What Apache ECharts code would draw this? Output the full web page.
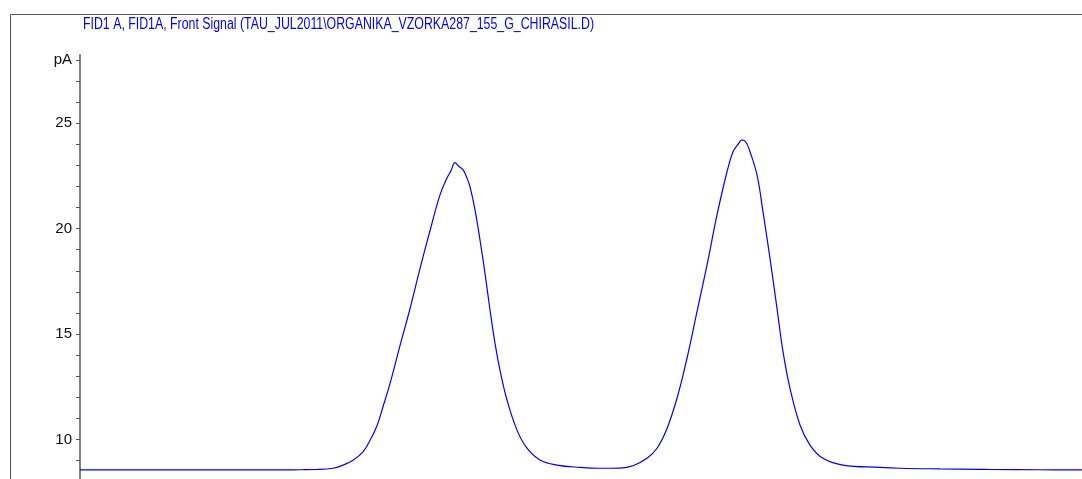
<!DOCTYPE html>
<html>
<head>
<meta charset="utf-8">
<script src="https://cdn.jsdelivr.net/npm/echarts@6/dist/echarts.min.js"></script>
<style>
html,body{margin:0;padding:0;background:#fff;}
#chart{width:1082px;height:479px;}
</style>
</head>
<body>
<div id="chart"></div>
<script>
// Retention time (min) and FID signal (pA)
const times = [0, 1.0, 2.0, 3.0, 4.0, 5.0, 5.5, 5.9, 6.325, 6.575, 6.825, 7.075, 7.25, 7.425, 7.575, 7.75, 8.0, 8.25, 8.5, 8.75, 9.0, 9.175, 9.275, 9.375, 9.475, 9.575, 9.675, 9.75, 9.875, 10.0, 10.125, 10.25, 10.375, 10.5, 10.675, 10.925, 11.175, 11.5, 11.925, 12.5, 13.0, 13.5, 13.825, 14.175, 14.425, 14.675, 14.925, 15.175, 15.425, 15.675, 15.925, 16.175, 16.325, 16.45, 16.55, 16.65, 16.75, 16.925, 17.075, 17.25, 17.425, 17.575, 17.75, 18.0, 18.25, 18.575, 19.075, 20.0, 20.5, 21.5, 22.5, 22.75, 24.0, 25.05];
const signal = [8.55, 8.55, 8.56, 8.55, 8.56, 8.55, 8.56, 8.57, 8.63, 8.78, 9.01, 9.41, 9.95, 10.65, 11.55, 12.65, 14.45, 16.2, 18.1, 19.9, 21.6, 22.4, 22.75, 23.13, 22.95, 22.8, 22.4, 21.99, 20.89, 19.46, 17.88, 16.14, 14.56, 13.29, 11.87, 10.44, 9.58, 9.02, 8.78, 8.67, 8.63, 8.64, 8.75, 9.10, 9.58, 10.52, 11.95, 13.85, 16.06, 18.27, 20.65, 22.70, 23.65, 24.0, 24.21, 24.1, 23.65, 22.55, 20.80, 18.59, 16.22, 14.16, 12.42, 10.68, 9.73, 9.10, 8.78, 8.67, 8.63, 8.60, 8.58, 8.57, 8.56, 8.55];
const tickValues = [9, 10, 11, 12, 13, 14, 15, 16, 17, 18, 19, 20, 21, 22, 23, 24, 25, 26, 27, 28];
const labelValues = [10, 15, 20, 25, 28];
const unitLabel = 'pA';
const titleText = 'FID1 A, FID1A, Front Signal (TAU_JUL2011\\ORGANIKA_VZORKA287_155_G_CHIRASIL.D)';

const titleFont = '16px "Liberation Sans"';
const cv = document.createElement('canvas').getContext('2d');
cv.font = titleFont;
const tw = cv.measureText(titleText).width;
const titleScale = 511 / tw;

const seriesData = times.map((t, i) => [t, signal[i]]);

const chart = echarts.init(document.getElementById('chart'), null, {renderer: 'canvas'});
chart.setOption({
  animation: false,
  backgroundColor: '#fff',
  grid: {left: 80, right: 0, top: 55, bottom: 0, containLabel: false},
  xAxis: {
    type: 'value', min: 0, max: 25.05,
    axisLine: {show: false}, axisTick: {show: false}, axisLabel: {show: false}, splitLine: {show: false}
  },
  yAxis: {
    type: 'value', min: 8.12, max: 28.24,
    axisLine: {show: true, lineStyle: {color: '#808080', width: 2}},
    axisTick: {show: true, length: 4, inside: false, customValues: tickValues, lineStyle: {color: '#555', width: 1}},
    axisLabel: {
      show: true, customValues: labelValues, margin: 8,
      fontFamily: 'Liberation Sans', fontSize: 15, color: '#111',
      formatter: v => (v === 28 ? unitLabel : String(v))
    },
    splitLine: {show: false}
  },
  graphic: [
    {type: 'rect', shape: {x: 10.5, y: 14.5, width: 1200, height: 600}, style: {fill: 'none', stroke: '#555', lineWidth: 1}, silent: true, z: 0},
    {type: 'text', x: 83, y: 25, scaleX: titleScale, style: {text: titleText, font: titleFont, fill: '#0000ff', verticalAlign: 'middle', align: 'left'}, z: 10}
  ],
  series: [{
    type: 'line', data: seriesData, showSymbol: false, smooth: 0.4,
    lineStyle: {color: '#0000ff', width: 1.2}, clip: true
  }]
});
</script>
</body>
</html>
